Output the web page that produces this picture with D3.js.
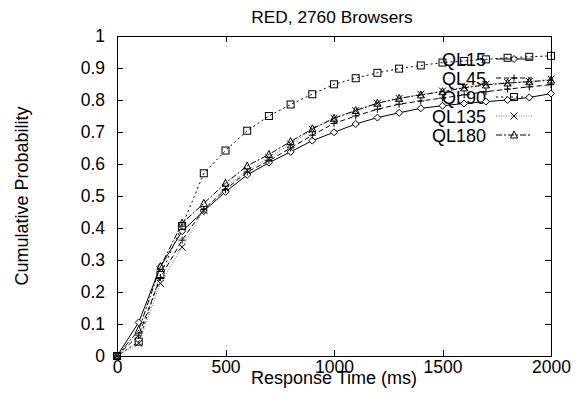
<!DOCTYPE html>
<html lang="en">
  <head>
    <meta charset="UTF-8" />
    <title>RED, 2760 Browsers</title>
    <style>
      body { margin: 0; background: #fff; }
      text { font-family: 'Liberation Sans', Arial, sans-serif; fill: #000; }
    </style>
  </head>
  <body>
    <script src="https://cdn.jsdelivr.net/npm/d3@7"></script>
    <script>
      // Data
      const times = [0, 100, 200, 300, 400, 500, 600, 700, 800, 900, 1000,
        1100, 1200, 1300, 1400, 1500, 1600, 1700, 1800, 1900, 2000];
      const ql15 = [0, 0.105, 0.279, 0.39, 0.453, 0.513, 0.566, 0.604, 0.638, 0.673, 0.699,
        0.725, 0.745, 0.76, 0.774, 0.782, 0.789, 0.795, 0.8, 0.808, 0.82];
      const ql45 = [0, 0.065, 0.245, 0.362, 0.458, 0.52, 0.575, 0.61, 0.65, 0.69, 0.727,
        0.75, 0.771, 0.787, 0.797, 0.806, 0.816, 0.826, 0.834, 0.841, 0.848];
      const ql90 = [0, 0.045, 0.253, 0.406, 0.571, 0.642, 0.704, 0.75, 0.786, 0.818, 0.849,
        0.868, 0.885, 0.898, 0.908, 0.917, 0.922, 0.927, 0.932, 0.935, 0.938];
      const ql135 = [0, 0.04, 0.227, 0.34, 0.455, 0.527, 0.58, 0.62, 0.662, 0.708, 0.743,
        0.767, 0.79, 0.805, 0.818, 0.828, 0.84, 0.849, 0.855, 0.858, 0.865];
      const ql180 = [0, 0.081, 0.279, 0.415, 0.477, 0.54, 0.594, 0.63, 0.67, 0.71, 0.743,
        0.767, 0.79, 0.805, 0.816, 0.826, 0.838, 0.847, 0.853, 0.857, 0.862];
      const seriesNames = ['QL15', 'QL45', 'QL90', 'QL135', 'QL180'];
      const xTicks = [0, 500, 1000, 1500, 2000];
      const yTicks = [0, 0.1, 0.2, 0.3, 0.4, 0.5, 0.6, 0.7, 0.8, 0.9, 1];

      const width = 578;
      const height = 408;
      const margin = { top: 36, right: 27, bottom: 52, left: 117 };
      const innerWidth = width - margin.left - margin.right;
      const innerHeight = height - margin.top - margin.bottom;

      const series = [
        { name: seriesNames[0], values: ql15, dash: null, color: '#000', marker: 'diamond' },
        { name: seriesNames[1], values: ql45, dash: '5,3', color: '#000', marker: 'plus' },
        { name: seriesNames[2], values: ql90, dash: '2,3', color: '#000', marker: 'square' },
        { name: seriesNames[3], values: ql135, dash: '1,1.5', color: '#777', marker: 'cross' },
        { name: seriesNames[4], values: ql180, dash: '6,2,2,2', color: '#000', marker: 'triangle' }
      ];

      const svg = d3.select('body').append('svg')
        .attr('width', width).attr('height', height);
      const g = svg.append('g')
        .attr('transform', `translate(${margin.left},${margin.top})`);

      const xScale = d3.scaleLinear().domain([0, 2000]).range([0, innerWidth]);
      const yScale = d3.scaleLinear().domain([0, 1]).range([innerHeight, 0]);

      // axes with inward ticks, mirrored on top and right
      const yAxis = g.append('g')
        .call(d3.axisLeft(yScale).tickValues(yTicks).tickSize(-6).tickPadding(12)
          .tickFormat(d3.format('~g')));
      const xAxis = g.append('g')
        .attr('transform', `translate(0,${innerHeight})`)
        .call(d3.axisBottom(xScale).tickValues(xTicks).tickSize(-6).tickPadding(4.5)
          .tickFormat(d3.format('d')));
      g.append('g')
        .attr('transform', `translate(${innerWidth},0)`)
        .call(d3.axisRight(yScale).tickValues(yTicks).tickSize(-6).tickFormat(''));
      g.append('g')
        .call(d3.axisTop(xScale).tickValues(xTicks).tickSize(-6).tickFormat(''));
      g.selectAll('.domain').remove();
      g.selectAll('.tick line').attr('stroke', '#000').attr('shape-rendering', 'crispEdges');
      [yAxis, xAxis].forEach((ax) => {
        ax.attr('font-family', null).attr('font-size', null);
        ax.selectAll('text').attr('font-size', 17.5).attr('fill', '#000');
      });

      g.append('rect')
        .attr('x', 0).attr('y', 0)
        .attr('width', innerWidth).attr('height', innerHeight)
        .attr('fill', 'none').attr('stroke', '#000')
        .attr('shape-rendering', 'crispEdges');

      // titles
      svg.append('text')
        .text('RED, 2760 Browsers')
        .attr('x', margin.left + innerWidth / 2 - 2)
        .attr('y', 23)
        .attr('text-anchor', 'middle')
        .attr('font-size', 17.3);
      svg.append('text')
        .text('Response Time (ms)')
        .attr('x', margin.left + innerWidth / 2)
        .attr('y', 384)
        .attr('text-anchor', 'middle')
        .attr('font-size', 18);
      svg.append('text')
        .text('Cumulative Probability')
        .attr('transform', `translate(28,${margin.top + innerHeight / 2}) rotate(-90)`)
        .attr('text-anchor', 'middle')
        .attr('font-size', 18);

      const drawMarker = (sel, type, color) => {
        const s = 3.5;
        if (type === 'diamond') {
          sel.append('path').attr('d', `M0,${-s}L${s},0L0,${s}L${-s},0Z`)
            .attr('fill', '#fff').attr('stroke', color);
        } else if (type === 'square') {
          sel.append('rect').attr('x', -s).attr('y', -s).attr('width', 2 * s).attr('height', 2 * s)
            .attr('fill', 'none').attr('stroke', color);
        } else if (type === 'plus') {
          sel.append('path').attr('d', `M${-s},0H${s}M0,${-s}V${s}`).attr('stroke', color);
        } else if (type === 'cross') {
          sel.append('path').attr('d', `M${-s},${-s}L${s},${s}M${-s},${s}L${s},${-s}`)
            .attr('stroke', '#000');
        } else if (type === 'triangle') {
          sel.append('path').attr('d', `M0,${-s - 0.5}L${s},${s - 0.5}L${-s},${s - 0.5}Z`)
            .attr('fill', 'none').attr('stroke', color);
        }
      };

      // key (drawn before the curves, as the original does)
      const legend = g.append('g');
      series.forEach((s, i) => {
        const y = 23 + i * 19;
        legend.append('text')
          .text(s.name)
          .attr('x', 369)
          .attr('y', y + 6.5)
          .attr('text-anchor', 'end')
          .attr('font-size', 18);
        legend.append('line')
          .attr('x1', 379).attr('x2', 415)
          .attr('y1', y).attr('y2', y)
          .attr('stroke', s.color).attr('stroke-dasharray', s.dash);
        drawMarker(legend.append('g').attr('transform', `translate(397,${y})`), s.marker, s.color);
      });

      const line = d3.line()
        .x((d, i) => xScale(times[i]))
        .y((d) => yScale(d));

      series.forEach((s) => {
        g.append('path')
          .datum(s.values)
          .attr('d', line)
          .attr('fill', 'none')
          .attr('stroke', s.color)
          .attr('stroke-width', 1)
          .attr('stroke-dasharray', s.dash);
        g.selectAll(null)
          .data(s.values)
          .enter()
          .append('g')
          .attr('transform', (d, i) => `translate(${xScale(times[i])},${yScale(d)})`)
          .each(function () { drawMarker(d3.select(this), s.marker, s.color); });
      });
    </script>
  </body>
</html>
